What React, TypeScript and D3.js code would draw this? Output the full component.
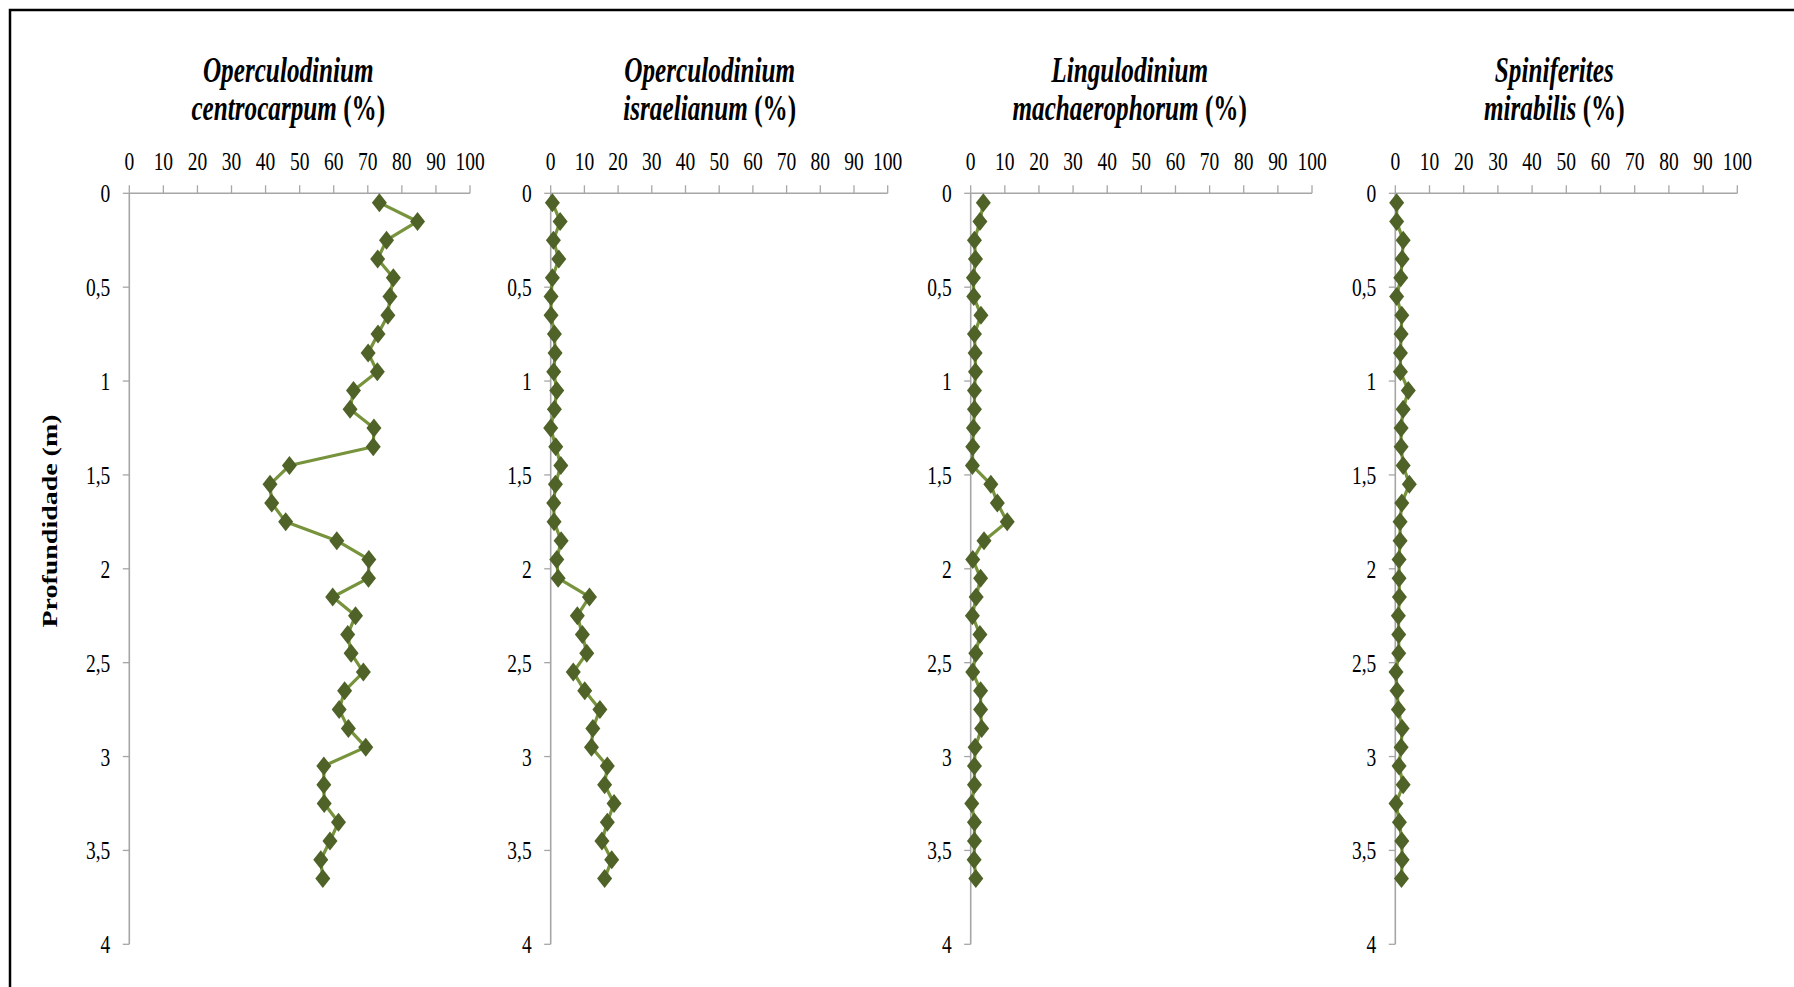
import * as d3 from "d3";

// profundidade das amostras (m)
const depths = [
  0.05, 0.15, 0.25, 0.35, 0.45, 0.55, 0.65, 0.75, 0.85, 0.95,
  1.05, 1.15, 1.25, 1.35, 1.45, 1.55, 1.65, 1.75, 1.85, 1.95,
  2.05, 2.15, 2.25, 2.35, 2.45, 2.55, 2.65, 2.75, 2.85, 2.95,
  3.05, 3.15, 3.25, 3.35, 3.45, 3.55, 3.65,
];

// abundância relativa (%)
const centrocarpum = [
  73.4, 84.6, 75.5, 72.9, 77.5, 76.5, 75.9, 73.0, 70.1, 72.8,
  65.8, 64.8, 71.8, 71.6, 47.0, 41.3, 41.8, 45.9, 60.9, 70.3,
  70.2, 59.7, 66.4, 64.1, 65.1, 68.7, 63.2, 61.6, 64.3, 69.4,
  57.1, 57.1, 57.2, 61.4, 58.9, 56.2, 56.8,
];
const israelianum = [
  0.5, 2.8, 0.8, 2.4, 0.5, 0.1, 0.1, 1.1, 1.3, 0.9,
  1.8, 1.1, 0.0, 1.5, 3.0, 1.4, 0.9, 1.0, 3.1, 1.8,
  2.2, 11.5, 7.9, 9.4, 10.7, 6.7, 10.1, 14.6, 12.5, 12.1,
  16.8, 16.0, 18.8, 16.8, 15.2, 18.1, 16.0,
];
const machaerophorum = [
  3.7, 2.7, 1.1, 1.4, 0.8, 0.9, 3.0, 1.1, 1.3, 1.4,
  1.1, 1.1, 0.8, 0.6, 0.5, 5.9, 7.8, 10.7, 3.9, 0.6,
  2.9, 1.6, 0.5, 2.7, 1.5, 0.6, 2.9, 2.9, 3.2, 1.3,
  1.1, 1.1, 0.3, 1.1, 1.1, 1.0, 1.5,
];
const mirabilis = [
  0.4, 0.4, 2.3, 2.0, 1.6, 0.4, 1.9, 1.7, 1.5, 1.5,
  3.8, 2.3, 1.7, 1.7, 2.3, 4.1, 1.9, 1.4, 1.4, 1.1,
  1.1, 1.2, 0.9, 1.0, 1.0, 0.2, 0.5, 0.9, 2.0, 1.7,
  1.1, 2.3, 0.2, 1.2, 1.9, 2.0, 1.8,
];

const genusNames = ["Operculodinium", "Operculodinium", "Lingulodinium", "Spiniferites"];
const epithets = ["centrocarpum", "israelianum", "machaerophorum", "mirabilis"];
const seriesList = [centrocarpum, israelianum, machaerophorum, mirabilis];

const percentTicks = [0, 10, 20, 30, 40, 50, 60, 70, 80, 90, 100];
const depthTicks = [0, 0.5, 1, 1.5, 2, 2.5, 3, 3.5, 4];
const yTitle = "Profundidade (m)";

const W = 1794;
const H = 987;
const panelLeft = [129.3, 550.7, 970.7, 1395.3];
const panelWidth = [340.7, 337, 341.3, 342];
const plotTop = 193.3;
const plotBottom = 944.3;

const FONT = "'Liberation Serif', 'Times New Roman', serif";
const AXIS = "#a6a6a6";
const LINE = "#77933c";
const MARK = "#4f6228";

const fmt = (d: number) => String(d).replace(".", ",");

function Panel({ i }: { i: number }) {
  const x0 = panelLeft[i];
  const xScale = d3
    .scaleLinear()
    .domain([0, 100])
    .range([x0, x0 + panelWidth[i]]);
  const yScale = d3
    .scaleLinear()
    .domain([0, 4])
    .range([plotTop, plotBottom]);

  const values = seriesList[i];
  const pts = depths.map((d, k) => [xScale(values[k]), yScale(d)] as [number, number]);
  const line = d3.line<[number, number]>();
  const diamond = (cx: number, cy: number) =>
    `M${cx},${cy - 9.5}L${cx + 7.5},${cy}L${cx},${cy + 9.5}L${cx - 7.5},${cy}Z`;

  const titleX = x0 + 159;

  return (
    <g>
      {/* título */}
      <g transform={`translate(${titleX},82) scale(0.7,1)`}>
        <text
          textAnchor="middle"
          fontFamily={FONT}
          fontSize={36}
          fontWeight="bold"
          fontStyle="italic"
        >
          {genusNames[i]}
        </text>
      </g>
      <g transform={`translate(${titleX},120) scale(0.7,1)`}>
        <text textAnchor="middle" fontFamily={FONT} fontSize={36} fontWeight="bold">
          <tspan fontStyle="italic">{epithets[i]}</tspan>
          <tspan> (%)</tspan>
        </text>
      </g>

      {/* eixo x no topo */}
      <line x1={xScale(0)} x2={xScale(100)} y1={plotTop} y2={plotTop} stroke={AXIS} strokeWidth={1.6} />
      {percentTicks.map((t) => (
        <g key={t}>
          <line
            x1={xScale(t)}
            x2={xScale(t)}
            y1={plotTop - 8}
            y2={plotTop}
            stroke={AXIS}
            strokeWidth={1.3}
          />
          <g transform={`translate(${xScale(t)},170) scale(0.75,1)`}>
            <text textAnchor="middle" fontFamily={FONT} fontSize={26} fill="#000">
              {t}
            </text>
          </g>
        </g>
      ))}

      {/* eixo y */}
      <line x1={x0} x2={x0} y1={plotTop} y2={plotBottom} stroke={AXIS} strokeWidth={1.6} />
      {depthTicks.map((t) => (
        <g key={t}>
          <line x1={x0 - 6.5} x2={x0} y1={yScale(t)} y2={yScale(t)} stroke={AXIS} strokeWidth={1.3} />
          <g transform={`translate(${x0 - 19},${yScale(t) + 9}) scale(0.75,1)`}>
            <text textAnchor="end" fontFamily={FONT} fontSize={26} fill="#000">
              {fmt(t)}
            </text>
          </g>
        </g>
      ))}

      {/* série */}
      <path d={line(pts) ?? ""} fill="none" stroke={LINE} strokeWidth={3.2} strokeLinejoin="round" />
      {pts.map(([cx, cy], k) => (
        <path key={k} d={diamond(cx, cy)} fill={MARK} />
      ))}
    </g>
  );
}

export default function App() {
  return (
    <svg
      width={W}
      height={H}
      viewBox={`0 0 ${W} ${H}`}
      style={{ position: "absolute", left: 0, top: 0, background: "#fff" }}
    >
      <rect x={0} y={0} width={W} height={H} fill="#fff" />
      <rect x={10} y={10} width={W + 20} height={H + 20} fill="none" stroke="#000" strokeWidth={2.5} />
      <text
        transform="translate(57,521) rotate(-90)"
        textAnchor="middle"
        fontFamily={FONT}
        fontSize={22}
        fontWeight="bold"
        textLength={213}
        lengthAdjust="spacingAndGlyphs"
      >
        {yTitle}
      </text>
      {seriesList.map((_, i) => (
        <Panel key={i} i={i} />
      ))}
    </svg>
  );
}
